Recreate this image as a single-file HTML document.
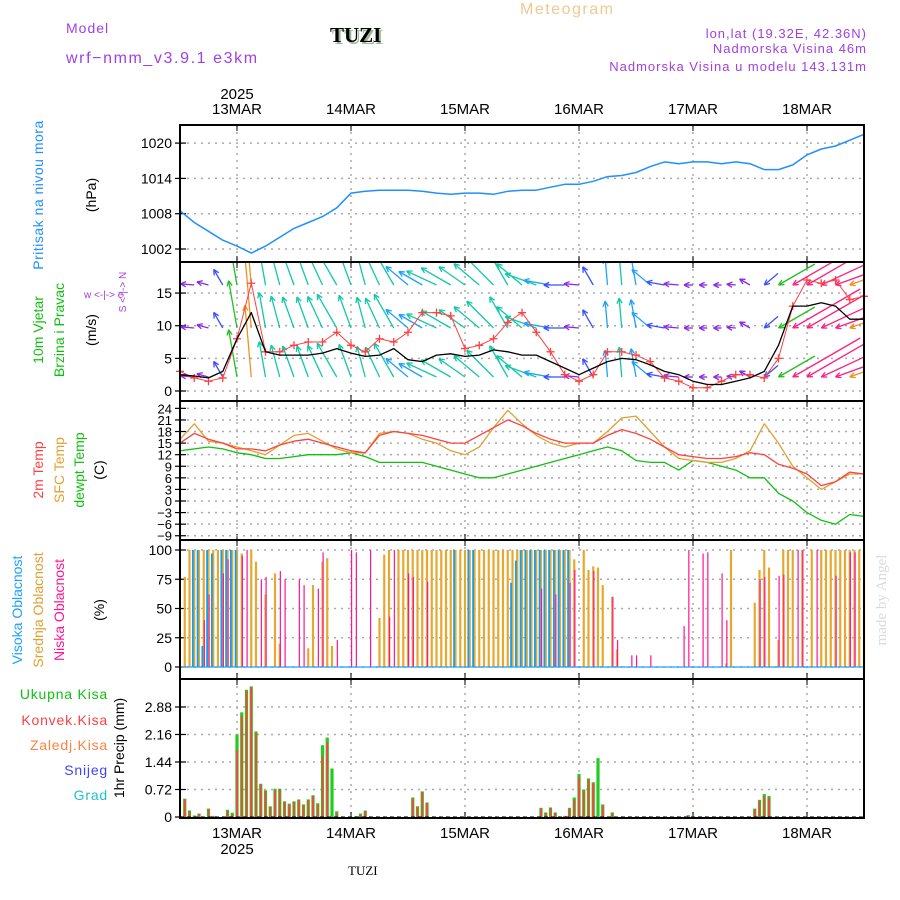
<!DOCTYPE html>
<html><head><meta charset="utf-8"><title>Meteogram TUZI</title>
<style>
html,body{margin:0;padding:0;background:#fff;}
svg{display:block;font-family:"Liberation Sans",sans-serif;}
</style></head>
<body>
<svg id="chart" xmlns="http://www.w3.org/2000/svg" width="900" height="900" viewBox="0 0 900 900">
  <defs>
    <clipPath id="clipW"><rect x="180" y="263" width="684" height="137"/></clipPath>
  </defs>
  <text x="520" y="14" font-size="16" fill="#f0c890" letter-spacing="1.5">Meteogram</text>
  <text x="66" y="33" font-size="14" fill="#a040e0" letter-spacing="1">Model</text>
  <text x="66" y="63" font-size="16" fill="#a040e0" letter-spacing="1.6">wrf−nmm_v3.9.1 e3km</text>
  <text x="332" y="44" font-size="21" font-weight="bold" font-family="Liberation Serif,serif" fill="#9bb89b">TUZI</text>
  <text x="330" y="42" font-size="21" font-weight="bold" font-family="Liberation Serif,serif" fill="#000">TUZI</text>
  <text x="867" y="38" font-size="13" fill="#a040e0" text-anchor="end" letter-spacing="1">lon,lat (19.32E, 42.36N)</text>
  <text x="867" y="53" font-size="13" fill="#a040e0" text-anchor="end" letter-spacing="1">Nadmorska Visina 46m</text>
  <text x="867" y="71" font-size="13" fill="#a040e0" text-anchor="end" letter-spacing="1">Nadmorska Visina u modelu 143.131m</text>
  <text x="237" y="99" font-size="15" text-anchor="middle">2025</text>
  <g id="topDays"></g>
  <g id="bottomDays"></g>
  <text x="237" y="854" font-size="15" text-anchor="middle">2025</text>
  <text x="348" y="875" font-size="13" font-family="Liberation Serif,serif">TUZI</text>
  <text transform="translate(886,600) rotate(-90)" font-size="15" font-family="Liberation Serif,serif" fill="#d8dcd8" text-anchor="middle">made by Angel</text>

  <text transform="translate(43,195) rotate(-90)" font-size="14" fill="#1e90ff" text-anchor="middle" letter-spacing="0.5">Pritisak na nivou mora</text>
  <text transform="translate(96,195) rotate(-90)" font-size="14" text-anchor="middle">(hPa)</text>
  <text transform="translate(43,330) rotate(-90)" font-size="14" fill="#10c010" text-anchor="middle">10m Vjetar</text>
  <text transform="translate(64,330) rotate(-90)" font-size="14" fill="#10c010" text-anchor="middle">Brzina i Pravac</text>
  <text transform="translate(96,330) rotate(-90)" font-size="14" text-anchor="middle">(m/s)</text>
  <text transform="translate(126,292) rotate(-90)" font-size="10" fill="#a040e0" text-anchor="middle">S &lt;-|-&gt; N</text>
  <text x="84" y="298" font-size="10" fill="#a040e0">w  &lt;-|-&gt;  e</text>
  <text transform="translate(43,470) rotate(-90)" font-size="14" fill="#ff4040" text-anchor="middle">2m Temp</text>
  <text transform="translate(64,470) rotate(-90)" font-size="14" fill="#e0a030" text-anchor="middle">SFC Temp</text>
  <text transform="translate(84,470) rotate(-90)" font-size="14" fill="#10c010" text-anchor="middle">dewpt Temp</text>
  <text transform="translate(104,470) rotate(-90)" font-size="14" text-anchor="middle">(C)</text>
  <text transform="translate(22,610) rotate(-90)" font-size="14" fill="#1ea0ff" text-anchor="middle">Visoka Oblacnost</text>
  <text transform="translate(43,610) rotate(-90)" font-size="14" fill="#e0a030" text-anchor="middle">Srednja Oblacnost</text>
  <text transform="translate(64,610) rotate(-90)" font-size="14" fill="#ff1493" text-anchor="middle">Niska Oblacnost</text>
  <text transform="translate(104,610) rotate(-90)" font-size="14" text-anchor="middle">(%)</text>
  <text x="108" y="699" font-size="14" fill="#10c010" text-anchor="end" letter-spacing="0.8">Ukupna Kisa</text>
  <text x="108" y="725" font-size="14" fill="#ff4040" text-anchor="end" letter-spacing="0.8">Konvek.Kisa</text>
  <text x="108" y="750" font-size="14" fill="#ff8040" text-anchor="end" letter-spacing="0.8">Zaledj.Kisa</text>
  <text x="108" y="775" font-size="14" fill="#4040ff" text-anchor="end" letter-spacing="0.8">Snijeg</text>
  <text x="108" y="800" font-size="14" fill="#20c0d0" text-anchor="end" letter-spacing="0.8">Grad</text>
  <text transform="translate(124,748) rotate(-90)" font-size="14" text-anchor="middle">1hr Precip (mm)</text>

  <g id="grid"></g>
  <g id="marks"></g>
  <g id="frames"></g>
</svg>
<script>
const dayLabels = ["13MAR","14MAR","15MAR","16MAR","17MAR","18MAR"];
const pressureTicks = [1002,1008,1014,1020];
const windTicks = [0,5,10,15];
const tempTicks = [-9,-6,-3,0,3,6,9,12,15,18,21,24];
const cloudTicks = [0,25,50,75,100];
const precipTicks = [0,0.72,1.44,2.16,2.88];
const precipTickLabels = ["0","0.72","1.44","2.16","2.88"];

const pressure = [1008.5,1006.5,1005,1003.5,1002.5,1001.3,1002.5,1004,1005.5,1006.5,1007.5,1009,1011.5,1011.8,1012,1012,1012,1011.8,1011.5,1011.3,1011.5,1011.5,1011.3,1011.8,1012,1012,1012.5,1013,1013,1013.5,1014.3,1014.5,1015,1016,1016.8,1016.5,1016.8,1016.8,1016.5,1016.8,1016.5,1015.5,1015.5,1016.3,1018,1019,1019.5,1020.5,1021.5];
const windSpeed = [2.5,2.3,2,3,8,12,6,5.5,5.5,5.5,5.8,6.5,5.8,5.3,5.5,6.5,4.8,4.5,5.5,5.7,5.3,5.5,6.3,6,5.5,5.5,4.5,3.5,2.5,3.5,4.5,5,4.8,4,3,2.5,1.5,1,1,1.5,2,3,7,13,13,13.5,13,11,11];
const windGust = [3,2,1.5,2,8,16.5,6,6,7,7.5,7.5,9,7,6,8,7.5,9,12,12,11.5,6.5,7,8,10.5,12,9,6,2.5,1.5,2.5,6,6,5.5,4.5,2,1.5,0.5,0.5,1.5,2.5,2.5,2,5,13,17,16.5,17,14,14.5];
const windDir = [170,175,165,120,100,95,100,105,110,110,115,120,110,105,115,120,140,150,155,150,145,140,135,120,140,160,170,180,175,120,95,95,100,140,170,175,180,180,180,175,150,220,210,210,210,205,200,200,200];
const temp2m = [15,17.5,16,15,13.5,13.5,13,14.5,15.5,16,15,14,13,12.5,17,18,17.5,17,16,15,15,17,19,21,19.5,17.5,16,15,15,15,17,18.5,17.5,16,14,12,11.5,11,11,11.5,12.5,12,9.5,8.5,7,4,5,7.5,7];
const tempSfc = [16,20,15.5,15,14,13,12,14.5,17,17.5,15.5,13.5,12.5,12.5,17.5,18,17.5,16,15,13,12,14,19,23.5,20,17,15,14,15,15,18,21.5,22,18,14,11,10.5,10,10,11,13,20,15,9,6,3,5,7,7];
const dewpt = [13,13.5,14,13.5,12.5,12,11,11,11.5,12,12,12,12.5,11.5,10,10,10,10,9,8,7,6,6,7,8,9,10,11,12,13,14,13,10.5,10,10,8,10.5,10,9,8,6,6,2,0,-3,-5,-6,-3.5,-4];

const cloudMid = [0,77,100,100,100,100,100,100,100,100, 100,100,100,97,0,100,90,0,62,0, 80,20,0,0,0,0,0,16,70,0, 90,93,18,0,0,0,0,0,0,0, 0,0,42,96,100,0,100,100,100,100, 100,100,100,100,100,100,100,100,100,100, 100,100,100,100,100,100,100,100,100,100, 100,100,100,100,100,100,100,100,100,100, 100,100,100,92,0,100,83,86,85,70, 0,60,15,0,0,0,0,0,0,0, 0,0,0,0,0,0,0,0,0,0, 0,0,0,0,0,3,100,0,0,0, 0,55,83,100,85,0,23,100,100,100, 0,100,0,100,0,100,100,100,100,100, 100,100,100,100,100];
const cloudHigh = [0,0,0,100,100,18,100,97,0,100, 100,100,100,0,0,0,0,0,0,0, 0,0,0,0,0,0,0,0,0,0, 0,0,0,0,0,0,0,0,0,0, 0,0,0,0,0,0,0,0,0,0, 0,0,0,0,0,0,0,0,100,0, 0,100,100,0,0,0,0,0,0,0, 72,91,100,100,100,100,100,100,100,100, 100,100,100,0,0,0,0,0,0,0, 0,0,0,0,0,0,0,0,0,0, 0,0,0,0,0,0,0,0,0,0, 0,0,0,0,0,0,0,0,0,0, 0,0,0,0,0,0,0,0,0,0, 0,0,0,0,0,0,0,0,0,0, 0,0,0,0,0];
const cloudLow = [0,0,0,0,0,40,62,0,0,80, 92,0,0,95,100,0,0,75,77,0, 0,82,75,0,0,75,70,0,0,67, 98,0,0,23,0,0,100,98,0,0, 100,0,0,0,43,100,0,0,80,77, 0,0,73,0,0,0,0,0,0,0, 0,0,0,0,0,0,0,0,0,0, 0,0,0,0,0,0,67,0,0,62, 0,0,72,83,0,0,0,82,0,0, 0,60,23,0,0,10,10,0,0,10, 0,0,0,0,0,0,35,100,0,0, 97,98,0,0,80,40,0,0,0,0, 0,0,75,77,0,0,78,79,0,0, 100,100,0,0,100,0,0,0,78,0, 0,98,98,0,0];
const precipTotal = [0,.48,.17,.04,.09,0,.22,.03,0,0, .19,.11,2.16,2.74,3.33,3.42,2.24,.87,.70,.28, .74,.74,.41,.35,.41,.46,.33,.46,.57,.36, 1.88,2.08,1.27,.15,0,0,0,.02,.09,.17, 0,0,0,0,0,0,0,0,0,.51, .28,.67,.38,0,0,0,0,0,0,0, 0,0,0,0,0,0,0,0,0,0, 0,0,0,0,0,0,.24,.12,.25,.12, 0,.03,.24,.51,1.13,.72,1.01,.91,1.54,.33, 0,.12,0,0,0,0,0,0,0,0, 0,0,0,0,0,0,0,.05,0,0, 0,0,0,0,0,0,0,0,0,0, 0,.22,.45,.6,.55,0,0,0,0,0, 0,0,0,0,0,0,0,0,0,0, 0,0,0,0,0];
const precipConv = [0,.46,.15,.02,.08,0,.2,.02,0,0, .15,.06,1.75,2.65,3.3,3.4,2.2,.85,.68,.26, .7,.72,.4,.33,.4,.44,.31,.44,.55,.33, 1.6,1.95,0,.1,0,0,0,.01,.06,.15, 0,0,0,0,0,0,0,0,0,.48, .26,.65,.36,0,0,0,0,0,0,0, 0,0,0,0,0,0,0,0,0,0, 0,0,0,0,0,0,.22,.1,.24,.1, 0,.02,.22,.45,1.05,.7,.98,.88,0,.3, 0,.1,0,0,0,0,0,0,0,0, 0,0,0,0,0,0,0,.03,0,0, 0,0,0,0,0,0,0,0,0,0, 0,.2,.42,.55,.5,0,0,0,0,0, 0,0,0,0,0,0,0,0,0,0, 0,0,0,0,0];

const NS = "http://www.w3.org/2000/svg";
const L = 180, R = 864;
const HOURS = 144;
const xH = h => L + (R - L) * h / HOURS;
const x3 = i => xH(i * 3);
const yP = v => 249 - (v - 1002) * 35.3 / 6;
const yW = v => 391 - v * 6.53;
const yT = v => 501 - v * 3.86;
const yC = v => 667 - v * 1.17;
const yR = v => 817 - v * 38.2;
const panels = [[125,262],[262,401],[401,540],[540,679],[679,818]];
const dayHours = [12,36,60,84,108,132];

function mk(tag, attrs, parent) {
  const e = document.createElementNS(NS, tag);
  for (const k in attrs) e.setAttribute(k, attrs[k]);
  parent.appendChild(e);
  return e;
}
const grid = document.getElementById('grid');
const marks = document.getElementById('marks');
const frames = document.getElementById('frames');
const topDays = document.getElementById('topDays');
const bottomDays = document.getElementById('bottomDays');

dayLabels.forEach((d, i) => {
  const x = xH(dayHours[i]);
  const t1 = mk('text', {x: x, y: 114, 'font-size': 15, 'text-anchor': 'middle'}, topDays);
  t1.textContent = d;
  
  
  const t2 = mk('text', {x: x, y: 838, 'font-size': 15, 'text-anchor': 'middle'}, bottomDays);
  t2.textContent = d;
  
  
  panels.forEach(p => {
    const g = mk('line', {x1: x, x2: x, y1: p[0], y2: p[1], stroke: '#aaa', 'stroke-width': 1.5, 'stroke-dasharray': '2,5'}, grid);
    
    
    mk('line', {x1: x, x2: x, y1: p[0], y2: p[0] + 6, stroke: '#000', 'stroke-width': 1}, grid);
    mk('line', {x1: x, x2: x, y1: p[1], y2: p[1] - 6, stroke: '#000', 'stroke-width': 1}, grid);
  });
});

function yAxis(ticks, labels, scale, name, fs) {
  ticks.forEach((v, i) => {
    const y = scale(v);
    const g = mk('line', {x1: L, x2: R, y1: y, y2: y, stroke: '#aaa', 'stroke-width': 1.5, 'stroke-dasharray': '2,5'}, grid);
    
    
    mk('line', {x1: L, x2: L + 6, y1: y, y2: y, stroke: '#000', 'stroke-width': 1.2}, grid);
    mk('line', {x1: L - 5, x2: L, y1: y, y2: y, stroke: '#000', 'stroke-width': 1.2}, grid);
    const t = mk('text', {x: L - 8, y: y + 5, 'font-size': fs, 'text-anchor': 'end'}, grid);
    t.textContent = labels[i];
    
    
  });
}
yAxis(pressureTicks, pressureTicks.map(String), yP, 'pressure', 14);
yAxis(windTicks, windTicks.map(String), yW, 'wind', 14);
yAxis(tempTicks, tempTicks.map(v => v < 0 ? '−' + (-v) : String(v)), yT, 'temp', 13);
yAxis(cloudTicks, cloudTicks.map(String), yC, 'cloud', 14);
yAxis(precipTicks, precipTickLabels, yR, 'precip', 14);

function line(vals, xf, yf, color, w, name) {
  const pts = vals.map((v, i) => xf(i).toFixed(1) + ',' + yf(v).toFixed(1)).join(' ');
  const p = mk('polyline', {points: pts, fill: 'none', stroke: color, 'stroke-width': w, 'stroke-linejoin': 'round'}, marks);
  
  
  return p;
}

line(pressure, x3, yP, '#1e90ff', 1.5, 'pressure-line');

function windColor(s) {
  if (s < 3) return '#8a2be2';
  if (s < 4) return '#3a50ff';
  if (s < 5) return '#1ea0ff';
  if (s < 7) return '#10c8a8';
  if (s < 9) return '#20c020';
  if (s < 10) return '#a0d000';
  if (s < 11) return '#e0d000';
  if (s < 12.5) return '#f09020';
  return '#ff2080';
}
const wg = mk('g', {'clip-path': 'url(#clipW)'}, marks);


[285, 328, 377].forEach(base => {
  windDir.forEach((d, i) => {
    const s = windSpeed[i];
    const len = Math.min(Math.max(6 * s, 8), 95);
    const a = d * Math.PI / 180;
    const dx = len * Math.cos(a), dy = -len * Math.sin(a);
    const x = x3(i);
    let x1, y1, x2, y2;
    if (dy > 0) { x1 = x - dx; y1 = base - dy; x2 = x; y2 = base; }
    else { x1 = x; y1 = base; x2 = x + dx; y2 = base + dy; }
    const c = windColor(s);
    const ar = mk('line', {x1: x1, y1: y1, x2: x2, y2: y2, stroke: c, 'stroke-width': 1.3}, wg);
    
    
    const back = Math.atan2(y1 - y2, x1 - x2);
    [0.45, -0.45].forEach(o => {
      mk('line', {x1: x2, y1: y2, x2: x2 + 6 * Math.cos(back + o), y2: y2 + 6 * Math.sin(back + o), stroke: c, 'stroke-width': 1.3}, wg);
    });
  });
});
line(windGust, x3, yW, '#ff4040', 1, 'wind-gust-line');
windGust.forEach((v, i) => {
  const x = x3(i), y = yW(v);
  const m = mk('path', {d: `M${x-4},${y}H${x+4}M${x},${y-4}V${y+4}`, stroke: '#ff4040', 'stroke-width': 1.3}, marks);
  
  
});
line(windSpeed, x3, yW, '#000', 1.3, 'wind-speed-line');

line(dewpt, x3, yT, '#10c010', 1.3, 'dewpoint-line');
line(tempSfc, x3, yT, '#e0a030', 1.3, 'sfc-temp-line');
line(temp2m, x3, yT, '#ff4040', 1.3, '2m-temp-line');

function cloudBars(vals, color, w, off, name) {
  vals.forEach((v, h) => {
    if (v <= 0) return;
    const x = xH(h) + off;
    const r = mk('rect', {x: x - w / 2, y: yC(v), width: w, height: 667 - yC(v), fill: color}, marks);
    
    
  });
}
cloudBars(cloudMid, '#e8a830', 2.2, 0, 'mid-cloud-bar');
cloudBars(cloudHigh, '#10a0f0', 1.8, -1.4, 'high-cloud-bar');
cloudBars(cloudLow, '#ff1493', 1.2, 0.6, 'low-cloud-bar');
mk('line', {x1: L, x2: R, y1: 667, y2: 667, stroke: '#1ea0ff', 'stroke-width': 1.2}, marks);

function precipBars(vals, color, w, name) {
  vals.forEach((v, h) => {
    if (v <= 0) return;
    const x = xH(h);
    const r = mk('rect', {x: x - w / 2, y: yR(v), width: w, height: 817 - yR(v), fill: color}, marks);
    
    
  });
}
precipBars(precipTotal, '#22cc22', 3.2, 'total-precip-bar');
precipBars(precipConv, '#ff4040', 1.8, 'convective-precip-bar');
mk('line', {x1: L, x2: R, y1: 817, y2: 817, stroke: '#000', 'stroke-width': 1, 'stroke-dasharray': '4,3'}, marks);

panels.forEach(p => {
  const f = mk('rect', {x: L, y: p[0], width: R - L, height: p[1] - p[0], fill: 'none', stroke: '#000', 'stroke-width': 2}, frames);
  
  
});
</script>
</body></html>
